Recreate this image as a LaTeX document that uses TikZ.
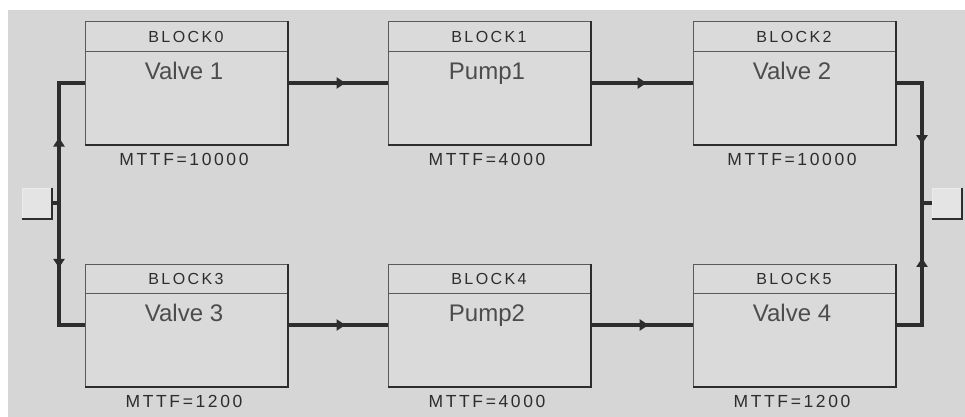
\documentclass[tikz,border=0pt]{standalone}
\usepackage{fontspec}
\setmainfont{Liberation Sans}
\newfontfamily\spaced[LetterSpace=15]{Liberation Sans}
\usetikzlibrary{decorations.markings,arrows.meta}
\definecolor{bg}{RGB}{214,214,214}
\definecolor{boxfill}{RGB}{218,218,218}
\definecolor{dark}{RGB}{45,45,45}
\definecolor{edge}{RGB}{90,90,90}
\definecolor{sqfill}{RGB}{228,228,228}
\tikzset{
  blk/.style={rectangle, draw=edge, line width=1pt, fill=boxfill, minimum width=202pt, minimum height=122pt, inner sep=0pt},
  hdrtext/.style={font=\fontsize{16}{16}\selectfont\spaced, text=dark, inner sep=0pt},
  nametext/.style={font=\fontsize{24}{24}\selectfont, text=black!70, inner sep=0pt, anchor=base},
  mttftext/.style={font=\fontsize{17.5}{17.5}\selectfont\spaced, text=dark, inner sep=0pt, anchor=base},
  conn/.style={draw=dark, line width=4pt},
  midarrow/.style={postaction={decorate}, decoration={markings, mark=at position #1 with {\arrow[dark]{Triangle[length=9pt,width=11pt]}}}},
  sq/.style={rectangle, draw=white!92!black, line width=1pt, fill=sqfill, minimum width=29pt, minimum height=30pt, inner sep=0pt},
  sqdark/.style={draw=dark, line width=2pt},
}
\begin{document}
\begin{tikzpicture}[x=1pt,y=-1pt]
\useasboundingbox (0,0) rectangle (965,417);
\fill[white] (0,0) rectangle (965,417);
\fill[bg] (8,10) rectangle (965,417);

% blocks
\foreach \n/\x/\y/\name/\mt in {0/186/83/Valve 1/10000, 1/489/83/Pump1/4000, 2/794/83/Valve 2/10000,
                                 3/186/325/Valve 3/1200, 4/489/325/Pump2/4000, 5/794/325/Valve 4/1200}{
  \node[blk] (b\n) at (\x,\y) {};
  \draw[edge, line width=1.2pt] ([yshift=-30pt]b\n.north west) -- ([yshift=-30pt]b\n.north east);
  \draw[dark, line width=2pt] (b\n.north east) -- (b\n.south east) -- (b\n.south west);
  \node[hdrtext] (h\n) at ([yshift=-15pt]b\n.north) {BLOCK\n};
  \node[nametext] (v\n) at ([xshift=-2pt,yshift=-58pt]b\n.north) {\name};
  \node[mttftext] (m\n) at ([xshift=-2pt,yshift=-20.5pt]b\n.south) {MTTF=\mt};
}

% terminal squares
\node[sq] (lsq) at (36.5,203) {};
\draw[sqdark] (lsq.north east) -- (lsq.south east) -- (lsq.south west);
\node[sq] (rsq) at (947,203) {};
\draw[sqdark] (rsq.north east) -- (rsq.south east) -- (rsq.south west);

\coordinate (jl) at (59,203);
\coordinate (jr) at (922,203);

% connectors
\draw[conn] (lsq.east) -- (jl);
\draw[conn, midarrow=0.45] (jl) |- (b0.west);
\draw[conn, midarrow=0.44] (jl) |- (b3.west);
\draw[conn, midarrow=0.58] (b0.east) -- (b1.west);
\draw[conn, midarrow=0.55] (b1.east) -- (b2.west);
\draw[conn, midarrow=0.58] (b3.east) -- (b4.west);
\draw[conn, midarrow=0.57] (b4.east) -- (b5.west);
\draw[conn, midarrow=0.56] (b2.east) -| (jr) -- (rsq.west);
\draw[conn, midarrow=0.59] (b5.east) -| (jr) -- (rsq.west);
\end{tikzpicture}
\end{document}
